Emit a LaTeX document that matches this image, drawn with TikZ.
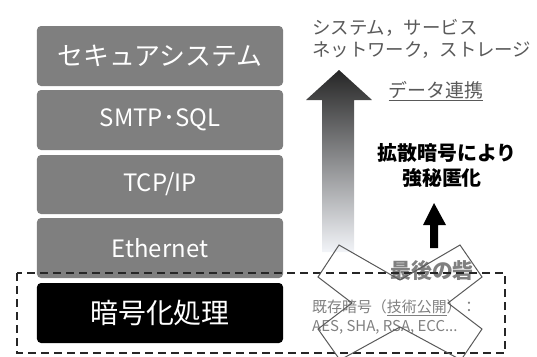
\documentclass[tikz,border=0pt]{standalone}
\usepackage{fontspec}
\setmainfont{Noto Sans CJK JP}
\definecolor{boxgray}{HTML}{7F7F7F}
\definecolor{txtgray}{HTML}{595959}
\definecolor{lightgray}{HTML}{808080}
\definecolor{arrowtop}{HTML}{262626}
\definecolor{arrowbot}{HTML}{F2F4F8}
\begin{document}
\begin{tikzpicture}[x=1bp,y=-1bp,
  layer/.style={draw=none, fill=boxgray, rounded corners=4bp, minimum width=246bp,
    minimum height=60bp, text=white, inner sep=0pt, font=\fontsize{24}{28}\selectfont},
  toptext/.style={anchor=west, inner sep=0pt, text=txtgray, font=\fontsize{18.5}{22}\selectfont},
  boldtext/.style={inner sep=0pt, font=\bfseries\fontsize{20}{24}\selectfont},
  smalltext/.style={anchor=west, inner sep=0pt, text=lightgray, font=\fontsize{15}{18}\selectfont}
]
\useasboundingbox (0,0) rectangle (537,356);
\clip (0,0) rectangle (537,356);

% layer stack
\node[layer, font=\fontsize{26}{30}\selectfont] (sec) at (160,56) {セキュアシステム};
\node[layer] (smtp) at (160,120) {SMTP･SQL};
\node[layer, minimum height=59bp] (tcp) at (160,184.5) {TCP/IP};
\node[layer] (eth) at (160,248) {Ethernet};
\node[layer, fill=black, font=\fontsize{28}{32}\selectfont] (enc) at (160,313) {暗号化処理};

% gradient arrow
\shade[top color=arrowtop, bottom color=arrowbot]
  (339,70) -- (372,100) -- (354,100) -- (354,252) -- (322,252) -- (322,100) -- (306,100) -- cycle;

% top right texts
\node[toptext] (t1) at (312,28) {システム，サービス};
\node[toptext] (t2) at (312,50) {ネットワーク，ストレージ};
\node[inner sep=0pt, text=txtgray, font=\fontsize{19}{22}\selectfont] (data) at (436,91) {\underline{データ連携}};

\node[boldtext] (kak1) at (447,153) {拡散暗号により};
\node[boldtext] (kak2) at (442,178) {強秘匿化};

% black arrow
\fill[black] (434,203) -- (446,225) -- (438,225) -- (438,248) -- (430,248) -- (430,225) -- (423,225) -- cycle;

\node[inner sep=0pt, text=lightgray, font=\bfseries\fontsize{21}{24}\selectfont] (last) at (432,271) {最後の砦};
\node[smalltext] (ex1) at (312,308) {既存暗号（\underline{技術公開}）：};
\node[smalltext] (ex2) at (312,327) {AES, SHA, RSA, ECC...};

% dashed frame
\draw[line width=2bp, color=arrowtop, dash pattern=on 8bp off 5bp] (17,273) rectangle (505,353);

% cross
\draw[line width=1bp, color=txtgray]
  (339,245) -- (400,280) -- (460,245) -- (482,277) -- (448,303) -- (482,329) -- (461,360)
  -- (400,327) -- (340,360) -- (318,329) -- (352,303) -- (318,277) -- cycle;
\end{tikzpicture}
\end{document}
